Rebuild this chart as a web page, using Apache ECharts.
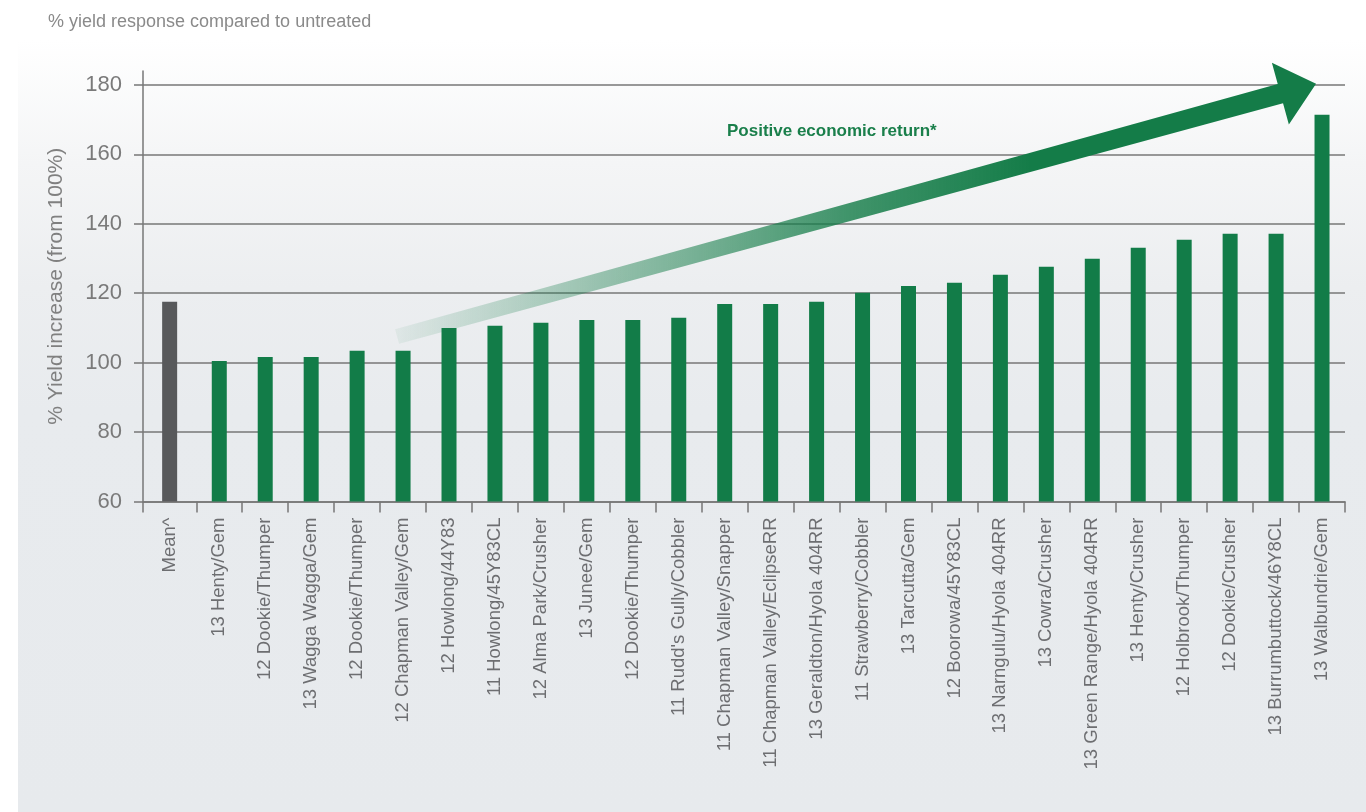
<!DOCTYPE html>
<html>
<head>
<meta charset="utf-8">
<script src="https://cdn.jsdelivr.net/npm/echarts@6/dist/echarts.min.js"></script>
<style>
html,body{margin:0;padding:0;background:#ffffff;}
#bg{position:absolute;left:18px;top:40px;width:1348px;height:772px;
  background:linear-gradient(to bottom,#ffffff 0%,#f4f5f6 16%,#eceef0 32%,#e8ebee 48%,#e7eaed 100%);}
#chart{position:absolute;left:0;top:0;width:1366px;height:812px;}
</style>
</head>
<body>
<div id="bg"></div>
<div id="chart"></div>
<script>
// ---------- data ----------
const TITLE = '% yield response compared to untreated';
const Y_TITLE = '% Yield increase (from 100%)';
const ARROW_TEXT = 'Positive economic return*';

const CATEGORIES = [
  'Mean^',
  '13 Henty/Gem',
  '12 Dookie/Thumper',
  '13 Wagga Wagga/Gem',
  '12 Dookie/Thumper',
  '12 Chapman Valley/Gem',
  '12 Howlong/44Y83',
  '11 Howlong/45Y83CL',
  '12 Alma Park/Crusher',
  '13 Junee/Gem',
  '12 Dookie/Thumper',
  "11 Rudd's Gully/Cobbler",
  '11 Chapman Valley/Snapper',
  '11 Chapman Valley/EclipseRR',
  '13 Geraldton/Hyola 404RR',
  '11 Strawberry/Cobbler',
  '13 Tarcutta/Gem',
  '12 Boorowa/45Y83CL',
  '13 Narngulu/Hyola 404RR',
  '13 Cowra/Crusher',
  '13 Green Range/Hyola 404RR',
  '13 Henty/Crusher',
  '12 Holbrook/Thumper',
  '12 Dookie/Crusher',
  '13 Burrumbuttock/46Y8CL',
  '13 Walbundrie/Gem'
];

const YIELD = [
  117.5,
  100.5, 101.6, 101.6, 103.4, 103.4,
  110.0, 110.6, 111.5, 112.3, 112.3,
  112.9, 116.9, 116.9, 117.5, 120.1,
  122.1, 123.0, 125.3, 127.6, 129.9,
  133.1, 135.4, 137.1, 137.1, 171.4
];

const Y_TICKS = [60, 80, 100, 120, 140, 160, 180];

// arrow annotation, in data space: [x slot, value]
const ARROW_FROM = [4.95, 107.5];
const ARROW_TO = [24.95, 180.3];
const TEXT_AT = [12.13, 166.5];

// ---------- layout helpers ----------
const MEAN_HALF = 0.58;            // the Mean slot is a little wider than the trial slots
const N = CATEGORIES.length;
const CENTERS = CATEGORIES.map((c, i) => i === 0 ? 0 : MEAN_HALF + (i - 1) + 0.5);
const BOUNDS = [-MEAN_HALF];
for (let k = 0; k < N; k++) BOUNDS.push(+(MEAN_HALF + k).toFixed(4));

const MEAN_COLOR = '#58595b';
const TRIAL_COLOR = '#127c48';
const ARROW_RGB = '20,124,72';
const AXIS_COLOR = '#777777';
const FONT = '"Liberation Sans", Arial, Helvetica, sans-serif';

function labelFor(v) {
  for (let i = 0; i < CENTERS.length; i++) {
    if (Math.abs(CENTERS[i] - v) < 1e-6) return CATEGORIES[i];
  }
  return '';
}

const chart = echarts.init(document.getElementById('chart'), null, { renderer: 'canvas' });

chart.setOption({
  animation: false,
  backgroundColor: 'transparent',
  title: {
    text: TITLE,
    left: 43,
    top: 8,
    textStyle: { fontSize: 18, fontWeight: 'normal', color: '#8a8a8a', fontFamily: FONT }
  },
  grid: { left: 143, right: 21, top: 71, bottom: 310.5, containLabel: false },
  xAxis: {
    type: 'value',
    min: -MEAN_HALF,
    max: MEAN_HALF + N - 1,
    axisLine: { show: true, onZero: false, lineStyle: { color: AXIS_COLOR, width: 1.5 } },
    axisTick: { show: true, length: 11, customValues: BOUNDS, lineStyle: { color: AXIS_COLOR, width: 1.5 } },
    axisLabel: {
      customValues: CENTERS,
      rotate: 90,
      margin: 16,
      formatter: labelFor,
      fontSize: 18.5,
      color: '#6d6e71',
      fontFamily: FONT
    },
    splitLine: { show: false }
  },
  yAxis: {
    type: 'value',
    min: 60,
    max: 184,
    interval: 20,
    name: Y_TITLE,
    nameLocation: 'middle',
    nameGap: 76,
    nameTextStyle: { fontSize: 21, color: '#808080', fontFamily: FONT },
    axisLine: { show: true, onZero: false, lineStyle: { color: AXIS_COLOR, width: 1.5 } },
    axisTick: { show: true, length: 9, customValues: Y_TICKS, lineStyle: { color: AXIS_COLOR, width: 1.5 } },
    axisLabel: { customValues: Y_TICKS, fontSize: 22, color: '#7a7a7a', margin: 21, fontFamily: FONT },
    splitLine: { show: true, lineStyle: { color: AXIS_COLOR, width: 1.5 } }
  },
  series: [{
    type: 'bar',
    barWidth: 15,
    z: 2,
    data: YIELD.map((v, i) => ({
      value: [CENTERS[i], v],
      itemStyle: { color: i === 0 ? MEAN_COLOR : TRIAL_COLOR }
    }))
  }]
});

// ---------- arrow annotation placed through the axes ----------
function px(p) { return chart.convertToPixel({ gridIndex: 0 }, p); }
const S = px(ARROW_FROM);
const T = px(ARROW_TO);
const dx = T[0] - S[0], dy = T[1] - S[1];
const len = Math.sqrt(dx * dx + dy * dy);
const ux = dx / len, uy = dy / len;
const nx = -uy, ny = ux;
const HEAD_LEN = 37, HEAD_HALF = 32, SHAFT_START = 7.5, SHAFT_END = 10;
const B = [T[0] - ux * HEAD_LEN, T[1] - uy * HEAD_LEN];
const pts = [
  [S[0] + nx * SHAFT_START, S[1] + ny * SHAFT_START],
  [B[0] + nx * SHAFT_END, B[1] + ny * SHAFT_END],
  [B[0] + nx * HEAD_HALF, B[1] + ny * HEAD_HALF],
  [T[0], T[1]],
  [B[0] - nx * HEAD_HALF, B[1] - ny * HEAD_HALF],
  [B[0] - nx * SHAFT_END, B[1] - ny * SHAFT_END],
  [S[0] - nx * SHAFT_START, S[1] - ny * SHAFT_START]
];
const grad = new echarts.graphic.LinearGradient(S[0], 0, T[0], 0, [
  { offset: 0, color: 'rgba(' + ARROW_RGB + ',0.06)' },
  { offset: 0.26, color: 'rgba(' + ARROW_RGB + ',0.45)' },
  { offset: 0.49, color: 'rgba(' + ARROW_RGB + ',0.80)' },
  { offset: 0.69, color: 'rgba(' + ARROW_RGB + ',1)' },
  { offset: 1, color: 'rgba(' + ARROW_RGB + ',1)' }
], true);
const TP = px(TEXT_AT);

chart.setOption({
  graphic: [
    { type: 'polygon', z: 10, shape: { points: pts }, style: { fill: grad } },
    {
      type: 'text', z: 11, x: TP[0], y: TP[1],
      style: {
        text: ARROW_TEXT, fill: '#1a7f4b', fontSize: 17, fontWeight: 'bold',
        fontFamily: FONT, align: 'left', verticalAlign: 'middle'
      }
    }
  ]
});
</script>
</body>
</html>
